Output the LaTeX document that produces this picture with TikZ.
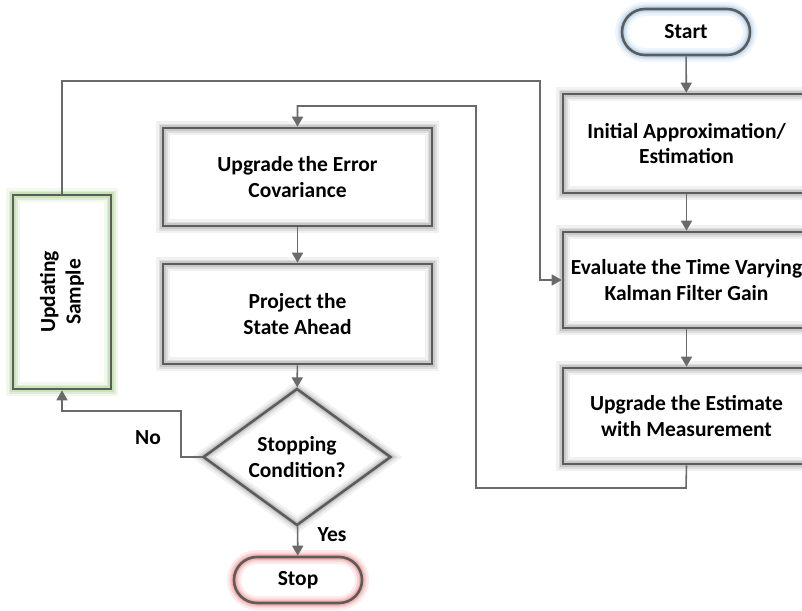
\documentclass[tikz,border=0pt]{standalone}
\usepackage{fontspec}
\setmainfont{Carlito}
\usetikzlibrary{arrows.meta,shapes.geometric}
\definecolor{bord}{HTML}{5C5C5C}
\definecolor{conn}{HTML}{6A6A6A}
\definecolor{glowgray}{HTML}{9A9A9A}
\definecolor{glowblue}{HTML}{8DB9E2}
\definecolor{glowred}{HTML}{EE7070}
\definecolor{glowgreen}{HTML}{9CCB7C}
\tikzset{
  glow/.style={preaction={draw=#1, line width=14pt, opacity=0.14},
               preaction={draw=#1, line width=9pt, opacity=0.22},
               preaction={draw=#1, line width=5.5pt, opacity=0.32}},
  base/.style={draw=bord, line width=2.6pt, align=center, inner sep=1pt,
               font=\fontsize{21.5}{25.5}\selectfont\bfseries, text=black},
  box/.style={base, rectangle, glow=glowgray},
  pill/.style={base, rectangle, rounded corners=23pt, minimum width=128, minimum height=46},
  dia/.style={base, diamond, aspect=1.37, inner sep=0pt, minimum width=188, minimum height=137, glow=glowgray},
  conn/.style={draw=conn, line width=1.6pt, -{Triangle[length=10pt,width=11pt]}},
  lbl/.style={font=\fontsize{21.5}{25.5}\selectfont\bfseries, text=black, inner sep=0pt}
}
\begin{document}
\begin{tikzpicture}[x=1pt,y=-1pt]
\useasboundingbox (0,0) rectangle (802,610);
\clip (0,0) rectangle (802,610);

% right column
\node[pill, glow=glowblue] (start) at (686,32) {Start};
\node[box, minimum width=247, minimum height=99] (init) at (686.5,143.5) {Initial Approximation/\\Estimation};
\node[box, minimum width=247, minimum height=96] (eval) at (686.5,280) {Evaluate the Time Varying\\Kalman Filter Gain};
\node[box, minimum width=247, minimum height=96] (est) at (686.5,416) {Upgrade the Estimate\\with Measurement};

% middle column
\node[box, minimum width=269, minimum height=98] (cov) at (297.5,177) {Upgrade the Error\\Covariance};
\node[box, minimum width=269, minimum height=100] (proj) at (297.5,314) {Project the\\State Ahead};
\node[dia] (cond) at (297,457) {Stopping\\Condition?};
\node[pill, glow=glowred] (stop) at (298,580) {Stop};

% left
\node[base, rectangle, glow=glowgreen, minimum width=98, minimum height=194] (upd) at (62,292) {};
\node[lbl, rotate=90, align=center] (updt) at (62,292) {Updating\\Sample};

% connector coordinates
\coordinate (b1) at (686,488);
\coordinate (b2) at (476,488);
\coordinate (b3) at (476,106);
\coordinate (u1) at (62,81);
\coordinate (u2) at (540,81);
\coordinate (n1) at (181,411);

% connectors
\draw[conn] (start) -- (init);
\draw[conn] (init) -- (eval);
\draw[conn] (eval) -- (est);
\draw[conn] (est.south) -- (b1) -- (b2) -- (b3) -| (cov.north);
\draw[conn] (upd.north) -- (u1) -- (u2) |- (eval.west);
\draw[conn] (cov) -- (proj);
\draw[conn] (proj) -- (cond);
\draw[conn] (cond) -- (stop);
\draw[conn] (cond.west) -| (n1) -| (upd.south);

% labels
\node[lbl] (no) at (148,438) {No};
\node[lbl] (yes) at (332,535) {Yes};
\end{tikzpicture}
\end{document}
